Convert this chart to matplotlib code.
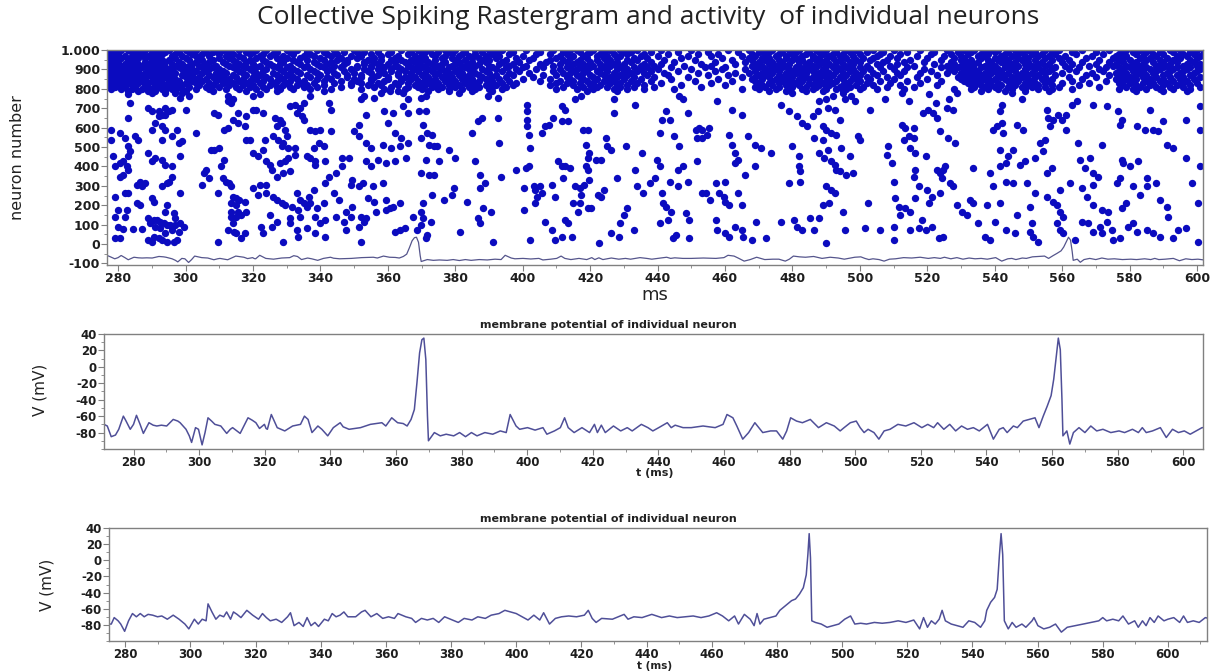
import matplotlib
matplotlib.use('Agg')
import matplotlib.pyplot as plt
from matplotlib.ticker import MultipleLocator

# ---------------- data ----------------
title = 'Collective Spiking Rastergram and activity  of individual neurons'
panel_title = 'membrane potential of individual neuron'

raster_yticks = [-100, 0, 100, 200, 300, 400, 500, 600, 700, 800, 900, 1000]
raster_ylabels = ['-100', '0', '100', '200', '300', '400', '500', '600', '700', '800', '900', '1.000']
ms_ticks = [280, 300, 320, 340, 360, 380, 400, 420, 440, 460, 480, 500, 520, 540, 560, 580, 600]
mv_ticks = [-80, -60, -40, -20, 0, 20, 40]

# dense band of spikes (neurons 780-1000), spike times per neuron row
band_1000 = [277, 281, 283, 288, 292, 295, 300, 303, 309, 311, 316, 321, 324, 330, 333, 339, 344, 350, 357, 364, 369, 372, 377, 380, 386, 390, 394, 401, 409, 414, 416, 421, 426, 429, 434, 441, 450, 461, 467, 471, 474, 479, 482, 487, 490, 496, 499, 504, 510, 518, 526, 531, 534, 539, 541, 546, 550, 555, 559, 566, 574, 579, 583, 586, 592, 595, 600]
band_990 = [279, 284, 286, 290, 294, 298, 301, 306, 308, 313, 318, 320, 327, 331, 336, 341, 347, 351, 353, 357, 361, 367, 371, 375, 378, 383, 388, 392, 397, 405, 412, 417, 420, 424, 430, 432, 438, 446, 455, 464, 470, 473, 477, 481, 485, 488, 493, 497, 502, 507, 514, 522, 529, 533, 537, 540, 544, 548, 552, 557, 563, 570, 578, 581, 585, 589, 593, 598, 602]
band_980 = [278, 280, 285, 287, 291, 293, 297, 302, 305, 310, 314, 319, 323, 326, 332, 337, 342, 345, 355, 360, 366, 370, 373, 379, 382, 386, 391, 396, 404, 408, 413, 419, 423, 427, 431, 436, 443, 452, 458, 468, 472, 476, 480, 484, 489, 492, 495, 500, 506, 512, 521, 527, 532, 536, 538, 543, 547, 551, 554, 558, 564, 572, 577, 582, 587, 590, 596, 599]
band_970 = [277, 282, 284, 289, 291, 296, 299, 303, 307, 312, 316, 322, 325, 329, 335, 338, 343, 349, 352, 358, 363, 368, 374, 377, 381, 384, 389, 393, 400, 411, 415, 418, 422, 425, 429, 435, 440, 449, 456, 465, 469, 475, 478, 483, 486, 491, 494, 498, 505, 509, 517, 525, 530, 535, 537, 542, 545, 549, 553, 556, 561, 569, 576, 579, 584, 588, 594, 597, 601]
band_960 = [279, 281, 286, 288, 292, 297, 300, 304, 310, 313, 317, 321, 327, 330, 334, 340, 346, 351, 356, 362, 369, 371, 376, 379, 385, 387, 392, 398, 403, 410, 414, 419, 424, 428, 433, 437, 447, 459, 467, 471, 473, 478, 481, 486, 488, 492, 496, 501, 504, 511, 520, 528, 531, 536, 540, 543, 547, 550, 555, 559, 567, 575, 578, 583, 586, 591, 595, 600]
band_950 = [278, 283, 285, 290, 293, 295, 301, 305, 308, 314, 319, 323, 328, 332, 336, 341, 345, 348, 354, 358, 361, 364, 367, 370, 374, 380, 383, 388, 390, 395, 402, 408, 412, 417, 422, 426, 431, 434, 442, 451, 462, 468, 472, 476, 480, 483, 487, 490, 494, 499, 503, 508, 515, 524, 530, 533, 538, 541, 544, 548, 552, 557, 562, 571, 577, 580, 585, 589, 593, 598]
band_940 = [277, 280, 284, 288, 291, 294, 298, 303, 307, 311, 315, 318, 324, 329, 333, 338, 343, 348, 353, 356, 362, 365, 368, 372, 377, 381, 385, 389, 394, 399, 407, 413, 416, 420, 425, 428, 432, 438, 445, 457, 466, 470, 474, 477, 482, 485, 489, 493, 497, 500, 507, 513, 519, 527, 532, 535, 539, 542, 546, 550, 554, 560, 566, 574, 578, 582, 587, 590, 594, 599]
band_930 = [279, 282, 286, 289, 292, 296, 299, 302, 306, 312, 316, 320, 325, 328, 334, 339, 342, 347, 353, 357, 360, 366, 369, 373, 376, 380, 384, 387, 393, 397, 405, 411, 415, 418, 423, 427, 430, 436, 441, 453, 463, 469, 473, 476, 479, 484, 488, 491, 495, 498, 505, 511, 522, 528, 531, 534, 538, 543, 545, 549, 553, 556, 563, 570, 576, 581, 584, 589, 592, 597, 601]
band_920 = [278, 281, 283, 287, 290, 293, 297, 301, 304, 309, 313, 317, 322, 326, 331, 336, 340, 344, 351, 355, 358, 362, 366, 371, 375, 379, 382, 386, 390, 396, 401, 409, 414, 419, 421, 426, 430, 435, 439, 448, 456, 468, 471, 475, 478, 482, 486, 490, 493, 497, 502, 509, 516, 526, 530, 533, 537, 540, 544, 547, 551, 555, 561, 568, 575, 579, 583, 588, 591, 596, 600]
band_910 = [277, 280, 285, 287, 291, 294, 298, 300, 305, 308, 314, 318, 321, 327, 330, 335, 341, 346, 351, 355, 359, 363, 367, 370, 374, 378, 383, 385, 391, 395, 400, 406, 413, 417, 420, 424, 429, 433, 437, 444, 454, 460, 470, 474, 477, 481, 484, 487, 492, 496, 500, 506, 514, 524, 529, 532, 536, 539, 543, 546, 550, 553, 558, 565, 573, 577, 580, 585, 590, 594, 598]
band_900 = [279, 282, 284, 289, 292, 295, 299, 302, 307, 310, 315, 319, 324, 328, 332, 337, 343, 349, 353, 357, 361, 364, 368, 372, 376, 381, 384, 388, 392, 398, 404, 411, 416, 418, 423, 428, 431, 435, 440, 450, 459, 466, 472, 475, 479, 483, 485, 489, 494, 498, 503, 510, 519, 527, 531, 534, 538, 541, 545, 549, 552, 557, 562, 571, 578, 582, 586, 589, 593, 597, 601]
band_890 = [278, 280, 283, 286, 290, 293, 296, 300, 303, 306, 311, 316, 320, 323, 329, 333, 338, 342, 347, 354, 358, 361, 365, 369, 373, 377, 380, 385, 389, 394, 399, 409, 415, 419, 422, 425, 430, 434, 438, 446, 457, 469, 473, 476, 480, 482, 486, 490, 493, 497, 501, 507, 513, 521, 528, 532, 535, 540, 542, 546, 549, 554, 556, 564, 572, 577, 581, 584, 588, 592, 596, 600]
band_880 = [277, 281, 285, 288, 291, 294, 297, 301, 305, 309, 312, 317, 321, 326, 331, 334, 339, 344, 350, 355, 359, 363, 367, 371, 375, 378, 382, 386, 390, 396, 402, 412, 414, 418, 423, 427, 432, 436, 442, 452, 463, 467, 471, 474, 478, 481, 484, 488, 491, 495, 499, 504, 511, 518, 526, 530, 533, 537, 539, 544, 548, 551, 555, 560, 569, 576, 579, 583, 587, 591, 595, 599]
band_870 = [279, 282, 284, 287, 289, 292, 295, 299, 302, 307, 310, 314, 318, 322, 327, 330, 336, 340, 345, 348, 352, 357, 363, 367, 370, 374, 377, 381, 384, 387, 392, 397, 406, 410, 416, 420, 424, 429, 431, 437, 443, 455, 461, 470, 472, 476, 479, 483, 487, 489, 492, 496, 500, 505, 512, 523, 531, 534, 536, 541, 543, 547, 550, 553, 558, 567, 574, 578, 582, 585, 590, 594, 598]
band_860 = [278, 280, 283, 286, 290, 294, 296, 300, 304, 308, 311, 315, 320, 324, 328, 332, 337, 342, 348, 352, 356, 360, 365, 368, 372, 376, 379, 383, 388, 391, 395, 403, 413, 417, 421, 426, 428, 433, 439, 449, 465, 469, 473, 477, 480, 484, 486, 490, 494, 498, 502, 508, 517, 529, 532, 535, 538, 542, 545, 548, 552, 555, 562, 570, 577, 580, 584, 588, 592, 596, 601]
band_850 = [277, 281, 284, 288, 291, 293, 297, 301, 303, 306, 310, 313, 317, 321, 325, 329, 333, 339, 343, 350, 355, 360, 364, 367, 371, 374, 378, 382, 385, 389, 393, 400, 408, 414, 418, 422, 425, 430, 435, 444, 458, 468, 471, 475, 478, 482, 485, 488, 491, 495, 499, 503, 510, 520, 530, 533, 537, 540, 543, 546, 550, 554, 557, 566, 576, 579, 582, 586, 590, 595, 599]
band_840 = [279, 282, 285, 287, 290, 292, 295, 298, 302, 305, 309, 312, 316, 319, 323, 327, 331, 335, 341, 346, 351, 355, 359, 364, 369, 373, 377, 380, 384, 387, 391, 396, 405, 411, 415, 419, 424, 427, 432, 438, 451, 462, 469, 474, 477, 480, 483, 487, 490, 493, 497, 500, 506, 514, 524, 531, 534, 536, 539, 544, 547, 551, 556, 563, 573, 578, 581, 585, 589, 593, 597]
band_830 = [278, 281, 283, 286, 289, 293, 296, 300, 303, 307, 311, 314, 318, 322, 326, 330, 334, 338, 344, 349, 352, 357, 362, 366, 370, 372, 375, 379, 383, 386, 390, 394, 398, 410, 413, 417, 421, 426, 429, 434, 441, 456, 470, 473, 476, 479, 481, 485, 489, 492, 496, 502, 509, 518, 532, 535, 538, 541, 545, 549, 552, 555, 560, 568, 577, 580, 584, 587, 591, 596, 600]
band_820 = [277, 280, 284, 288, 291, 294, 297, 299, 304, 308, 313, 317, 320, 325, 329, 333, 336, 341, 349, 354, 358, 363, 368, 371, 374, 378, 381, 385, 389, 392, 397, 408, 415, 420, 423, 428, 431, 436, 447, 460, 471, 474, 478, 482, 486, 488, 491, 495, 499, 504, 512, 523, 533, 536, 539, 542, 546, 550, 553, 557, 565, 578, 582, 586, 590, 594, 598]
band_810 = [279, 282, 285, 289, 292, 295, 298, 301, 306, 310, 315, 319, 323, 327, 331, 335, 339, 346, 356, 361, 366, 369, 373, 376, 380, 384, 387, 391, 395, 412, 418, 422, 425, 429, 433, 439, 453, 469, 472, 476, 480, 484, 487, 490, 494, 497, 501, 508, 516, 534, 537, 540, 544, 548, 551, 555, 559, 571, 579, 583, 588, 592, 596, 601]
band_800 = [278, 281, 284, 287, 290, 293, 296, 299, 303, 307, 312, 316, 321, 324, 328, 332, 337, 343, 352, 359, 365, 370, 375, 378, 382, 386, 390, 394, 410, 416, 421, 427, 431, 436, 445, 465, 470, 475, 479, 483, 486, 490, 493, 496, 500, 505, 513, 528, 533, 538, 541, 545, 549, 553, 557, 563, 577, 581, 585, 589, 593, 598]
band_790 = [283, 286, 289, 291, 294, 297, 300, 308, 318, 327, 341, 363, 372, 378, 385, 391, 419, 428, 473, 478, 484, 489, 495, 536, 543, 549, 556, 582, 590, 597]
band_780 = [290, 294, 297, 299, 381, 480, 545]

band_rows = [1000, 990, 980, 970, 960, 950, 940, 930, 920, 910, 900,
             890, 880, 870, 860, 850, 840, 830, 820, 810, 800, 790, 780]
band_times = [band_1000, band_990, band_980, band_970, band_960, band_950,
              band_940, band_930, band_920, band_910, band_900, band_890,
              band_880, band_870, band_860, band_850, band_840, band_830,
              band_820, band_810, band_800, band_790, band_780]

# sparse spikes below the band: (time ms, neuron)
sparse_277_300 = [(283, 771), (283.5, 728), (283, 650), (280.5, 572), (282, 547), (285, 555), (286, 538), (283, 503), (283.5, 478), (283, 452), (278.5, 452), (279, 400), (280.5, 417), (281.5, 426), (282.5, 400), (283, 383), (281.5, 357), (280.5, 348), (286.5, 322), (287, 297), (285.5, 305), (288, 314), (282, 262), (283, 262), (279, 245), (285.5, 210), (286.5, 202), (282.5, 176), (280, 176), (279, 141), (282, 141), (280, 90), (281.5, 76), (284.5, 76), (287, 76), (279, 29), (280.5, 29), (289, 21), (278, 590), (278, 538),
                  (289, 702), (290, 684), (292, 684), (294, 702), (292, 659), (293, 667), (294, 667), (295, 684), (296, 693), (291, 624), (293, 607), (294, 590), (297.5, 590), (290, 590), (296, 555), (298, 521), (299, 529), (293, 538), (289, 469), (291, 443), (290, 426), (293, 434), (294, 409), (298.5, 452), (296, 400), (296, 348), (294.5, 314), (293, 297), (295, 322), (298.5, 262), (290, 236), (290.5, 219), (294.5, 202), (294, 167), (296.5, 159), (297, 133), (289, 133), (289.5, 107), (290.5, 124), (291.5, 124), (292.5, 116), (293.5, 107), (294.5, 98), (295.5, 98), (297, 98), (298.5, 107), (299.5, 90), (291, 90), (292.5, 81), (294, 55), (296, 72), (298, 64), (290.5, 38), (292, 29), (293, 21), (294.5, 12), (296.5, 12), (297.5, 21), (290, 12), (298.5, 753), (300, 693)]
sparse_300_335 = [(301, 762), (303, 572), (308.5, 676), (309.5, 667), (307.5, 486), (308.5, 486), (310, 495), (311.5, 434), (310.5, 400), (311, 340), (312, 322), (313, 314), (313.5, 297), (314, 245), (315, 236), (316, 228), (317.5, 219), (313.5, 210), (315, 202), (313.5, 167), (315.5, 167), (318, 167), (313.5, 141), (315, 141), (316.5, 150), (314, 107), (312.5, 72), (314.5, 64), (315, 55), (317.5, 55), (316.5, 29), (309.5, 12), (311.5, 590), (312.5, 598), (314, 641), (315.5, 624), (317.5, 607), (312.5, 736), (314, 745), (312.5, 762), (313.5, 728), (315.5, 676), (318, 659), (318, 538), (319, 538), (305, 305), (307, 340), (305.5, 365), (306, 383), (309.5, 262),
                  (320, 762), (322, 771), (320, 693), (321, 693), (323, 676), (323.5, 538), (326, 555), (326.5, 650), (327, 607), (328, 641), (328.5, 624), (329.5, 590), (330, 555), (329, 521), (327.5, 538), (328.5, 503), (330.5, 495), (332.5, 495), (323, 486), (320, 469), (321.5, 452), (324, 426), (325, 409), (325.5, 383), (328, 417), (329.5, 426), (330.5, 443), (332.5, 460), (327, 348), (329, 365), (331, 374), (324, 305), (322, 305), (320, 288), (321.5, 253), (324, 262), (326, 245), (327, 228), (328.5, 210), (329.5, 202), (331.5, 193), (333, 262), (334, 228), (335, 210), (333.5, 176), (334, 141), (325, 150), (327, 116), (331, 133), (331, 107), (333, 72), (333.5, 38), (329, 12), (325.5, 90), (322.5, 90), (323, 55), (333, 676), (334.5, 659), (335, 641), (331, 710), (332.5, 719), (334, 702), (335, 728)]
sparse_335_368 = [(337, 762), (342.5, 728), (343, 693), (337, 590), (338.5, 581), (340, 590), (343, 581), (339.5, 521), (338, 495), (341, 503), (336, 452), (337, 443), (338.5, 426), (338.5, 409), (341.5, 426), (346.5, 443), (348.5, 443), (342.5, 348), (344.5, 365), (341.5, 314), (338, 279), (336.5, 245), (337, 210), (336, 193), (339, 184), (341, 210), (345.5, 228), (347.5, 167), (338.5, 141), (341.5, 124), (344.5, 141), (347, 116), (340, 107), (336, 81), (338.5, 55), (341.5, 38), (347.5, 72), (349, 141), (349.5, 193), (344, 262), (349, 305), (349.5, 331), (346.5, 400),
                  (352, 745), (353, 762), (356, 753), (358, 779), (360.5, 788), (364.5, 779), (366, 745), (353.5, 667), (351.5, 615), (350, 581), (351.5, 555), (353.5, 521), (355, 495), (358.5, 512), (361, 495), (363.5, 503), (366, 521), (364, 547), (362, 572), (360, 624), (359, 684), (361.5, 676), (366, 676), (364.5, 710), (353.5, 426), (355, 400), (357, 434), (359.5, 417), (362, 426), (365.5, 443), (351.5, 297), (352.5, 314), (355.5, 297), (358.5, 314), (354, 236), (356, 219), (359.5, 228), (361.5, 193), (363.5, 210), (352, 141), (353.5, 133), (356.5, 167), (359.5, 176), (360.5, 184), (351.5, 90), (353, 116), (362, 64), (363.5, 72), (365, 81), (352, 12), (367.4, 141)]
sparse_368_421 = [(371.3, 762), (369.8, 753), (369.3, 684), (371.3, 684), (370.3, 615), (369.8, 547), (371.7, 572), (373.2, 564), (372.2, 512), (373.7, 503), (374.7, 503), (378.1, 486), (380, 443), (371.3, 434), (375.1, 426), (369.8, 365), (372.2, 357), (373.7, 357), (373.2, 253), (379, 253), (376.6, 228), (383.4, 219), (370.3, 210), (369.8, 167), (370.3, 133), (372.7, 116), (371.7, 47), (371.3, 29), (381.5, 64), (379.5, 288), (387.3, 288), (385.8, 426), (387.8, 650), (386.8, 633), (384.9, 572), (389.7, 762), (392.6, 753), (392.6, 650), (387.3, 357), (388.7, 314), (388.3, 184), (390.7, 167), (386.8, 133), (387.3, 107), (391.2, 12), (393.1, 521), (393.6, 348), (369.8, 98), (368.8, 72),
                  (398, 383), (401.4, 719), (401.4, 684), (401.4, 641), (401.4, 607), (401.8, 564), (402.3, 495), (401.8, 400), (400.9, 391), (400.4, 288), (403.8, 210), (403.3, 297), (403.8, 279), (405.2, 297), (408.6, 305), (405.7, 262), (404.3, 245), (409.6, 245), (402.3, 21), (400.4, 176), (406.7, 116), (408.6, 72), (409.6, 21), (411.6, 38), (414.5, 38), (412.5, 124), (413.5, 107), (410.6, 426), (411.6, 400), (412.5, 400), (414, 391), (412, 340), (405.7, 572), (406.7, 607), (407.7, 615), (409.1, 650), (411.6, 633), (413.5, 633), (411.6, 710), (412.5, 693), (415.4, 745), (417.4, 762), (417.9, 590), (419.3, 590), (418.8, 512), (419.8, 469), (419.3, 443), (418.8, 400), (419.3, 383), (419.8, 331), (418.3, 305), (415.4, 297), (416.9, 288), (417.4, 253), (415, 210), (416.9, 210), (419.3, 184), (420.3, 184), (416.4, 167)]
sparse_421_486 = [(422.2, 253), (423.2, 245), (424.2, 279), (421.7, 434), (423.2, 434), (425.1, 503), (426.1, 486), (424.7, 547), (427.1, 676), (427.1, 745), (428.1, 340), (430.5, 503), (422.7, 3), (430, 150), (431, 184), (428.6, 38), (429, 107), (432.9, 72), (433.9, 297), (433.4, 383), (435.8, 262), (435.3, 469), (433.4, 719), (437.8, 314), (439.7, 434), (440.7, 400), (439.2, 340), (441.2, 262), (441.7, 210), (442.6, 193), (443.6, 322), (444.1, 167), (443.1, 124), (440.7, 107), (443.6, 641), (441.2, 641), (440.7, 572), (442.6, 684), (446.5, 762), (447.5, 745), (448.9, 676), (445, 555), (446.5, 503), (446, 383), (447.5, 400), (446, 297), (448.9, 322), (448.4, 159), (449.4, 124), (445.5, 47), (444.6, 29), (449.4, 29), (426.1, 55),
                  (451.4, 590), (452.3, 598), (453.3, 590), (455.2, 598), (454.8, 564), (451.8, 547), (453.3, 547), (451.8, 426), (453.3, 262), (454.3, 262), (455.7, 228), (457.2, 314), (460.1, 322), (458.2, 262), (459.6, 245), (460.1, 219), (461.1, 202), (464, 262), (465, 202), (457.2, 124), (457.7, 72), (460.1, 55), (461.1, 38), (463, 90), (465, 72), (465.4, 38), (467.9, 21), (472.2, 29), (457.7, 736), (462, 693), (465, 667), (461.1, 564), (466.9, 555), (462, 512), (463, 469), (464, 434), (465.9, 357), (468.8, 400), (468.8, 512), (470.8, 495), (473.7, 469), (476.6, 719), (479, 684), (481.5, 659), (482.9, 624), (484.4, 607), (480, 503), (482, 452), (482, 400), (482.4, 374), (482.4, 322), (479, 314), (480.5, 124), (481.5, 90), (482.9, 72), (485.3, 133), (463, 417), (469.3, 116), (476.6, 116)]
sparse_486_541 = [(488, 736), (490, 745), (492, 762), (495, 779), (495.5, 745), (497.5, 762), (498.5, 736), (503, 693), (507.5, 745), (487.5, 684), (490.5, 702), (492.5, 693), (494, 641), (486, 659), (489, 607), (490, 590), (491.5, 572), (493, 564), (486.5, 547), (489, 538), (489.5, 443), (491.5, 426), (492.5, 409), (493, 383), (494, 374), (496, 357), (490.5, 486), (494.5, 495), (490, 297), (491.5, 279), (492.5, 262), (489, 202), (491, 210), (488, 133), (486.5, 72), (490, 3), (495, 167), (495.5, 72), (499.5, 555), (500, 538), (501.5, 81), (502.5, 210), (506, 72), (508, 460), (508.5, 503), (509.5, 417), (510, 322), (510.5, 236), (511.5, 193), (512, 150), (510, 90), (510, 21), (497, 452), (498, 365), (488, 469),
                  (512.5, 779), (514.5, 736), (520.5, 771), (522.5, 728), (526.5, 745), (512.5, 615), (513.5, 598), (516, 598), (513, 538), (514.5, 555), (516, 547), (515, 495), (516.5, 469), (519.5, 452), (516.5, 383), (516, 348), (517.5, 297), (521.5, 245), (516.5, 236), (520.5, 210), (513.5, 184), (515, 167), (518.5, 124), (517.5, 81), (519.5, 72), (521.5, 90), (523.5, 29), (524.8, 38), (518.8, 676), (520.3, 693), (521.8, 676), (522.8, 650), (525.8, 702), (527.7, 693), (523.8, 581), (526.2, 547), (528.2, 521), (522.8, 383), (523.8, 365), (524.8, 383), (524.3, 340), (525.3, 400), (527.7, 297), (523.8, 262), (528.7, 202), (530.2, 167), (532.7, 228), (533.7, 210), (531.7, 150), (535.1, 107), (537.1, 38), (538.6, 21), (533.7, 391), (538.6, 365), (539.6, 297), (537.6, 202), (540.1, 116), (539.6, 590), (540.6, 607), (528.7, 779), (515, 72), (526.7, 314), (520, 279)]
sparse_541_602 = [(541.6, 210), (542.1, 624), (542.6, 572), (546.5, 615), (548.5, 590), (541.6, 400), (543.5, 417), (549, 426), (543.5, 322), (545.5, 314), (549.5, 314), (541.6, 684), (542.1, 719), (548, 745), (546.5, 150), (546, 55), (543.5, 72), (550.5, 193), (550.5, 64), (551, 107), (551.5, 38), (552.9, 12), (551.9, 262), (555.4, 365), (556.9, 391), (551.9, 443), (554.4, 478), (553.4, 521), (554.9, 538), (556.4, 607), (555.9, 650), (557.4, 641), (558.9, 667), (561.3, 667), (559.9, 641), (561.3, 590), (555.4, 693), (562.8, 719), (564.3, 736), (564.8, 521), (565.3, 434), (568.3, 443), (566.8, 391), (569.2, 365), (570.7, 348), (569.2, 305), (565.8, 288), (567.3, 245), (569.2, 202), (557.4, 219), (558.4, 202), (559.4, 167), (560.3, 141), (558.4, 107), (559.4, 72), (560.3, 55), (563.8, 21), (565.8, 116), (567.8, 107), (569.2, 64), (555.4, 245), (569.2, 719), (545.5, 486), (541.6, 486), (544, 452), (547.5, 409), (559.4, 279), (562.3, 314),
                  (571.7, 176), (573.7, 167), (573.2, 116), (571.2, 90), (571.7, 55), (574.7, 72), (575.2, 21), (577.2, 29), (573.2, 710), (576.7, 684), (577.7, 641), (577.2, 615), (571.7, 512), (577.7, 434), (578.1, 417), (580.1, 400), (582.6, 426), (577.2, 340), (576.2, 314), (581.1, 297), (585.1, 297), (579.1, 210), (577.7, 184), (579.6, 90), (582.1, 64), (585.1, 72), (589, 38), (593, 29), (596.9, 81), (600.4, 12), (582.1, 607), (584.6, 590), (587, 590), (588.5, 581), (590, 633), (593, 495), (588, 314), (591, 193), (591.5, 141), (596.9, 443), (598.4, 314), (600.4, 210), (600.9, 400), (600.9, 590), (600.9, 710), (596.9, 641), (585.1, 340), (589, 228), (587, 55), (581.1, 107), (583.2, 253), (591, 512), (594.5, 72), (586, 693)]
sparse_groups = [sparse_277_300, sparse_300_335, sparse_335_368, sparse_368_421,
                 sparse_421_486, sparse_486_541, sparse_541_602]

# membrane potential, neuron shown in the middle panel (also overlaid on raster)
v1_t = [271, 272, 273.2, 274.5, 275.5, 276.9, 277.6, 279, 280, 280.9, 282, 283, 284.7, 286, 287.1, 288.5, 290.1, 292.1, 293.5, 294.2, 296, 297, 297.7, 298.9, 299.8, 300.9, 301.8, 302.7, 303.8, 304.8, 306.6, 308.4, 309.5, 310.2, 312.5, 314.9, 316.2, 317.3, 318.4, 319.9, 320.4, 320.8, 322, 323.8, 326.1, 328.5, 330.9, 332.1, 333.2, 334.4, 336.2, 337.4, 339.2, 340.9, 343, 343.9, 345.7, 349.2, 352.2, 355.7, 356.9, 358.7, 360.5, 362.2, 363.4, 364.6, 365.6, 366.4, 367.2, 367.9, 368.5, 369.1, 369.6, 369.9, 371.7, 373.5, 375.3, 377.6, 379.4, 381.2, 383, 384.7, 387.1, 389.5, 391.8, 393.6, 394.8, 396.6, 397.7, 400.1, 402.4, 404.8, 406, 408.3, 410.1, 411.4, 412.5, 414.3, 416.7, 419, 420.5, 421.4, 422.6, 423.8,
        426.3, 428.5, 430.5, 432, 434.8, 436.8, 438.3, 440.1, 442.7, 443.9, 445.1, 447.5, 450, 453.6, 457.3, 459.7, 460.9, 462.7, 463.9, 465.7, 467.5, 469.4, 470.6, 471.8, 474.2, 476, 477.9, 479.1, 480.3, 482.1, 483.9, 486.3, 488.8, 491.2, 493.6, 495.4, 496.6, 498.5, 500.3, 501.5, 502.7, 503.9, 505.7, 507.2, 508.8, 510.6, 513, 515.4, 517.9, 520.3, 522.1, 523.9, 525.1, 527, 528.8, 530.6, 532.4, 534.2, 536, 537.8, 540.3, 542.1, 543.9, 545.1, 546.3, 548.2, 549.4, 551.2, 553, 554.8, 556, 557.3, 558.5, 559.7, 560.5, 561.3, 561.9, 562.5, 563, 563.3, 564.5, 565.4, 566.5, 568.2, 570, 571.8, 573.6, 575.5, 577.9, 580.4, 582.1, 584.5, 586.3, 587.5, 588.7, 590.6, 593, 594.8, 596.7, 598.5, 600.3, 602.1, 603.9, 605.7, 607]
v1_v = [-70, -72, -85, -83, -76, -60, -65, -76, -70, -59, -70, -81, -68, -71, -72, -71, -72, -64, -66, -68, -76, -84, -92, -74, -76, -95, -80, -62, -66, -70, -72, -81, -76, -74, -81, -62, -65, -68, -75, -70, -75, -76, -58, -74, -78, -72, -70, -60, -64, -80, -72, -76, -84, -74, -68, -73, -76, -74, -70, -68, -72, -62, -68, -69, -72, -64, -52, -19, 17, 33, 35, 9, -60, -90, -80, -84, -82, -84, -80, -85, -80, -84, -80, -82, -78, -80, -58, -72, -76, -74, -77, -74, -82, -78, -74, -62, -74, -80, -74, -80, -70, -80, -71, -80,
        -72, -78, -74, -78, -70, -74, -78, -74, -68, -74, -71, -74, -74, -72, -74, -70, -58, -62, -72, -88, -80, -68, -74, -80, -78, -78, -88, -78, -62, -66, -68, -64, -74, -68, -72, -78, -74, -68, -66, -74, -80, -76, -80, -88, -78, -76, -70, -72, -68, -74, -70, -74, -68, -76, -70, -78, -72, -76, -74, -78, -70, -88, -76, -74, -80, -72, -74, -66, -64, -62, -74, -60, -48, -35, -15, 13, 35, 21, -39, -84, -78, -94, -80, -74, -80, -72, -78, -76, -80, -78, -80, -76, -80, -74, -80, -78, -74, -86, -76, -80, -78, -82, -78, -74, -74]

# membrane potential, neuron shown in the bottom panel
v2_t = [275, 275.7, 276.6, 277.8, 278.6, 279.8, 281, 282.2, 283.4, 284.6, 285.8, 287, 288.4, 289.9, 291.2, 292.9, 294.7, 296.5, 298.3, 299.5, 301.2, 302.4, 303.6, 304.8, 305.4, 306.6, 307.8, 309, 310.2, 311.1, 312.3, 313.2, 314.3, 315.5, 317.3, 319.1, 320.9, 322.1, 323.3, 324.5, 326.3, 328, 329.8, 330.7, 331.8, 333.3, 334.6, 335.8, 337, 338.2, 339.3, 341.1, 342.3, 343.5, 344.7, 345.9, 347.1, 348.3, 350.7, 352.5, 353.6, 355.4, 357.2, 359, 360.8, 362.6, 363.7, 366.1, 367.9, 369.1, 370.9, 372.7, 374.5, 376.2, 378, 380.4, 382.2, 384, 386.4, 388.2, 390.5, 392.3, 394.7, 396.5, 398.3, 400, 401.8, 403.6, 405.4, 407.2, 408.4, 410.2, 412, 413.9, 416.1, 418.5, 420.9, 422.1, 423.3, 424.5, 426.2,
        429.5, 431.3, 433.1, 434.3, 436.1, 438.6, 441.6, 444.6, 447, 449.4, 451.9, 454.3, 456.7, 459.1, 461.5, 463.3, 465.2, 467, 468.2, 470, 471.8, 473, 473.9, 474.8, 476, 477.9, 479.7, 480.9, 482.1, 483.3, 484.5, 485.7, 486.9, 488.1, 489, 489.5, 489.9, 490.3, 490.7, 491.8, 493.6, 495.4, 497.2, 499, 500.8, 502.6, 503.9, 505.7, 507.5, 509.9, 512.3, 514.7, 517.2, 519.6, 522, 523.8, 525, 526.2, 527.4, 528.6, 529.8, 530.7, 531.7, 533.5, 535.3, 537.1, 538.9, 540.7, 542.5, 543.8, 544.4, 545.6, 546.8, 547.6, 548.3, 548.8, 549.3, 549.8, 551, 552.2, 553.4, 555.2, 556.4, 558.3, 558.9, 560.1, 561.9, 563.7, 565.5, 567.3, 569.1, 571.6, 574, 576.4, 578.8, 580, 581.2, 583.1, 584.9, 586.2, 587.9, 589.8, 590.9, 592.2, 593.3, 594.5, 595.8, 597, 598.8, 600, 601.8, 603.6, 604.8, 606, 607.8, 609.6, 611.5, 612.5]
v2_v = [-79, -79, -71, -75, -79, -88, -75, -66, -70, -66, -70, -67, -68, -70, -69, -73, -68, -73, -79, -85, -73, -79, -73, -75, -54, -64, -73, -68, -70, -64, -73, -64, -67, -71, -62, -68, -73, -66, -71, -75, -73, -77, -70, -65, -81, -77, -82, -71, -81, -77, -82, -73, -75, -66, -70, -68, -64, -70, -70, -64, -62, -70, -66, -72, -70, -72, -66, -70, -72, -77, -72, -74, -72, -77, -70, -74, -77, -72, -74, -70, -72, -68, -66, -62, -64, -66, -70, -74, -68, -74, -65, -79, -72, -70, -69, -70, -68, -62, -72, -77, -72,
        -73, -70, -67, -73, -70, -71, -67, -71, -69, -71, -70, -69, -71, -69, -65, -69, -75, -69, -79, -67, -73, -81, -66, -79, -73, -71, -69, -62, -58, -54, -50, -48, -42, -34, -18, 7, 33, 3, -75, -77, -79, -83, -81, -79, -73, -69, -79, -78, -79, -77, -78, -77, -75, -77, -74, -85, -71, -83, -75, -79, -73, -62, -75, -79, -81, -83, -75, -77, -83, -75, -62, -52, -46, -36, 7, 33, 7, -75, -85, -77, -83, -79, -83, -75, -71, -81, -85, -83, -79, -89, -83, -81, -79, -77, -75, -71, -75, -73, -75, -69, -79, -75, -83, -75, -81, -71, -77, -69, -75, -73, -71, -77, -69, -77, -75, -77, -71, -72]

# ---------------- figure ----------------
W, H = 1217, 672
DOT = '#0b0bbf'
TRACE = '#4f4f98'
GREY = '#808080'
DOT_MS = 5.3

fig = plt.figure(figsize=(W / 100, H / 100), dpi=100)


def box(l, t, r, b):
    return [l / W, 1 - b / H, (r - l) / W, (b - t) / H]


def ftext(x, y, s, **kw):
    fig.text(x / W, 1 - y / H, s, ha='center', va='center', **kw)


def style(ax):
    for sp in ax.spines.values():
        sp.set_color(GREY)
        sp.set_linewidth(1)
    ax.tick_params(which='both', direction='out', color=GREY, labelcolor='#1e1e1e',
                   top=False, right=False, pad=1)
    ax.tick_params(which='major', length=4)
    ax.tick_params(which='minor', length=2)
    ax.xaxis.set_minor_locator(MultipleLocator(10))


# raster
ax1 = fig.add_axes(box(107, 50, 1203, 265))
ax1.plot(v1_t, v1_v, color='#55558c', lw=0.9, zorder=1)
for n, times in zip(band_rows, band_times):
    ax1.plot(times, [n] * len(times), 'o', ms=DOT_MS, color=DOT, mew=0, zorder=2)
for grp in sparse_groups:
    t, n = zip(*grp)
    ax1.plot(t, n, 'o', ms=DOT_MS, color=DOT, mew=0, zorder=2)
ax1.set_xlim(276.7, 601.8)
ax1.set_ylim(-108, 1000)
ax1.set_yticks(raster_yticks, raster_ylabels, fontsize=9, fontweight='bold')
ax1.set_xticks(ms_ticks, [str(v) for v in ms_ticks], fontsize=9, fontweight='bold')
ax1.yaxis.set_minor_locator(MultipleLocator(50))
style(ax1)

# membrane potential panels
for ax, tt, vv, xl in [(fig.add_axes(box(104, 334, 1203, 449)), v1_t, v1_v, (271, 606)),
                       (fig.add_axes(box(109, 528, 1207, 641)), v2_t, v2_v, (275, 612))]:
    ax.plot(tt, vv, color=TRACE, lw=1.1)
    ax.set_xlim(*xl)
    ax.set_ylim(-100, 40)
    ax.set_yticks(mv_ticks, [str(v) for v in mv_ticks], fontsize=8.5, fontweight='bold')
    ax.set_xticks(ms_ticks, [str(v) for v in ms_ticks], fontsize=8.5, fontweight='bold')
    ax.yaxis.set_minor_locator(MultipleLocator(10))
    style(ax)

# texts
ink = '#222222'
ftext(648, 18, title, fontsize=19, family='Open Sans', color=ink)
ftext(18, 158, 'neuron number', rotation=90, fontsize=11.5, color=ink)
ftext(655, 295, 'ms', fontsize=13, color=ink)
ftext(608, 325, panel_title, fontsize=8, fontweight='bold', color=ink)
ftext(655, 473, 't (ms)', fontsize=8, fontweight='bold', color=ink)
ftext(40, 390, 'V (mV)', rotation=90, fontsize=11, color=ink)
ftext(608, 519, panel_title, fontsize=8, fontweight='bold', color=ink)
ftext(655, 666, 't (ms)', fontsize=7.5, fontweight='bold', color=ink)
ftext(47, 585, 'V (mV)', rotation=90, fontsize=11, color=ink)

fig.savefig('out.png', dpi=100)
